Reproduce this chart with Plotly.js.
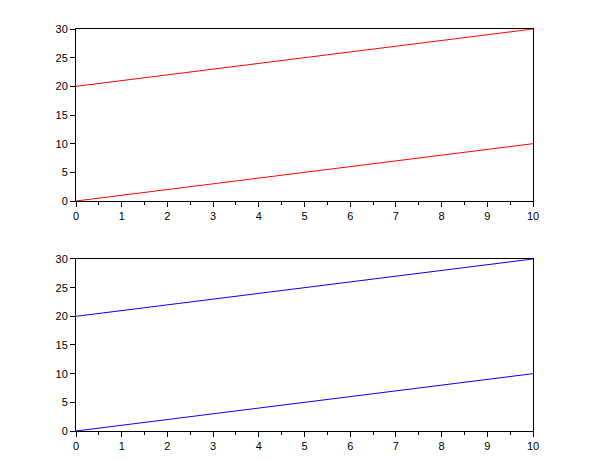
<!DOCTYPE html>
<html>
<head>
<meta charset="utf-8">
<script src="https://cdn.plot.ly/plotly-3.0.1.min.js"></script>
<style>html,body{margin:0;padding:0;background:#fff;}#chart{width:610px;height:460px;}</style>
</head>
<body>
<div id="chart"></div>
<script>
var xValues = [0, 1, 2, 3, 4, 5, 6, 7, 8, 9, 10];
var lowerSeries = [0, 1, 2, 3, 4, 5, 6, 7, 8, 9, 10];
var upperSeries = [20, 21, 22, 23, 24, 25, 26, 27, 28, 29, 30];
var xTickVals = [0, 1, 2, 3, 4, 5, 6, 7, 8, 9, 10];
var yTickVals = [0, 5, 10, 15, 20, 25, 30];

var topColor = '#ff0000';
var bottomColor = '#0000ff';

var traces = [
  {x: xValues, y: lowerSeries, xaxis: 'x', yaxis: 'y', mode: 'lines', line: {color: topColor, width: 1}},
  {x: xValues, y: upperSeries, xaxis: 'x', yaxis: 'y', mode: 'lines', line: {color: topColor, width: 1}},
  {x: xValues, y: lowerSeries, xaxis: 'x2', yaxis: 'y2', mode: 'lines', line: {color: bottomColor, width: 1}},
  {x: xValues, y: upperSeries, xaxis: 'x2', yaxis: 'y2', mode: 'lines', line: {color: bottomColor, width: 1}}
];

function xAxis(anchor) {
  return {
    anchor: anchor, range: [0, 10], tickvals: xTickVals, ticks: 'outside', ticklen: 5,
    tickcolor: '#000', showline: true, linecolor: '#000', linewidth: 1, mirror: true,
    showgrid: false, zeroline: false, tickfont: {family: 'Liberation Sans, Arial, sans-serif', size: 11, color: '#000'},
    minor: {dtick: 0.5, ticks: 'outside', ticklen: 3, tickcolor: '#000', showgrid: false}
  };
}
function yAxis(anchor, domain) {
  return {
    anchor: anchor, domain: domain, range: [0, 30], tickvals: yTickVals, ticks: 'outside', ticklen: 5,
    tickcolor: '#000', showline: true, linecolor: '#000', linewidth: 1, mirror: true,
    showgrid: false, zeroline: false, tickfont: {family: 'Liberation Sans, Arial, sans-serif', size: 11, color: '#000'}
  };
}

var layout = {
  width: 610, height: 460, showlegend: false,
  margin: {l: 76, r: 77, t: 29, b: 29},
  paper_bgcolor: '#fff', plot_bgcolor: '#fff',
  xaxis: xAxis('y'),
  yaxis: yAxis('x', [0.5721, 1]),
  xaxis2: xAxis('y2'),
  yaxis2: yAxis('x2', [0, 0.4279])
};

Plotly.newPlot('chart', traces, layout, {displayModeBar: false, staticPlot: true});
</script>
</body>
</html>
